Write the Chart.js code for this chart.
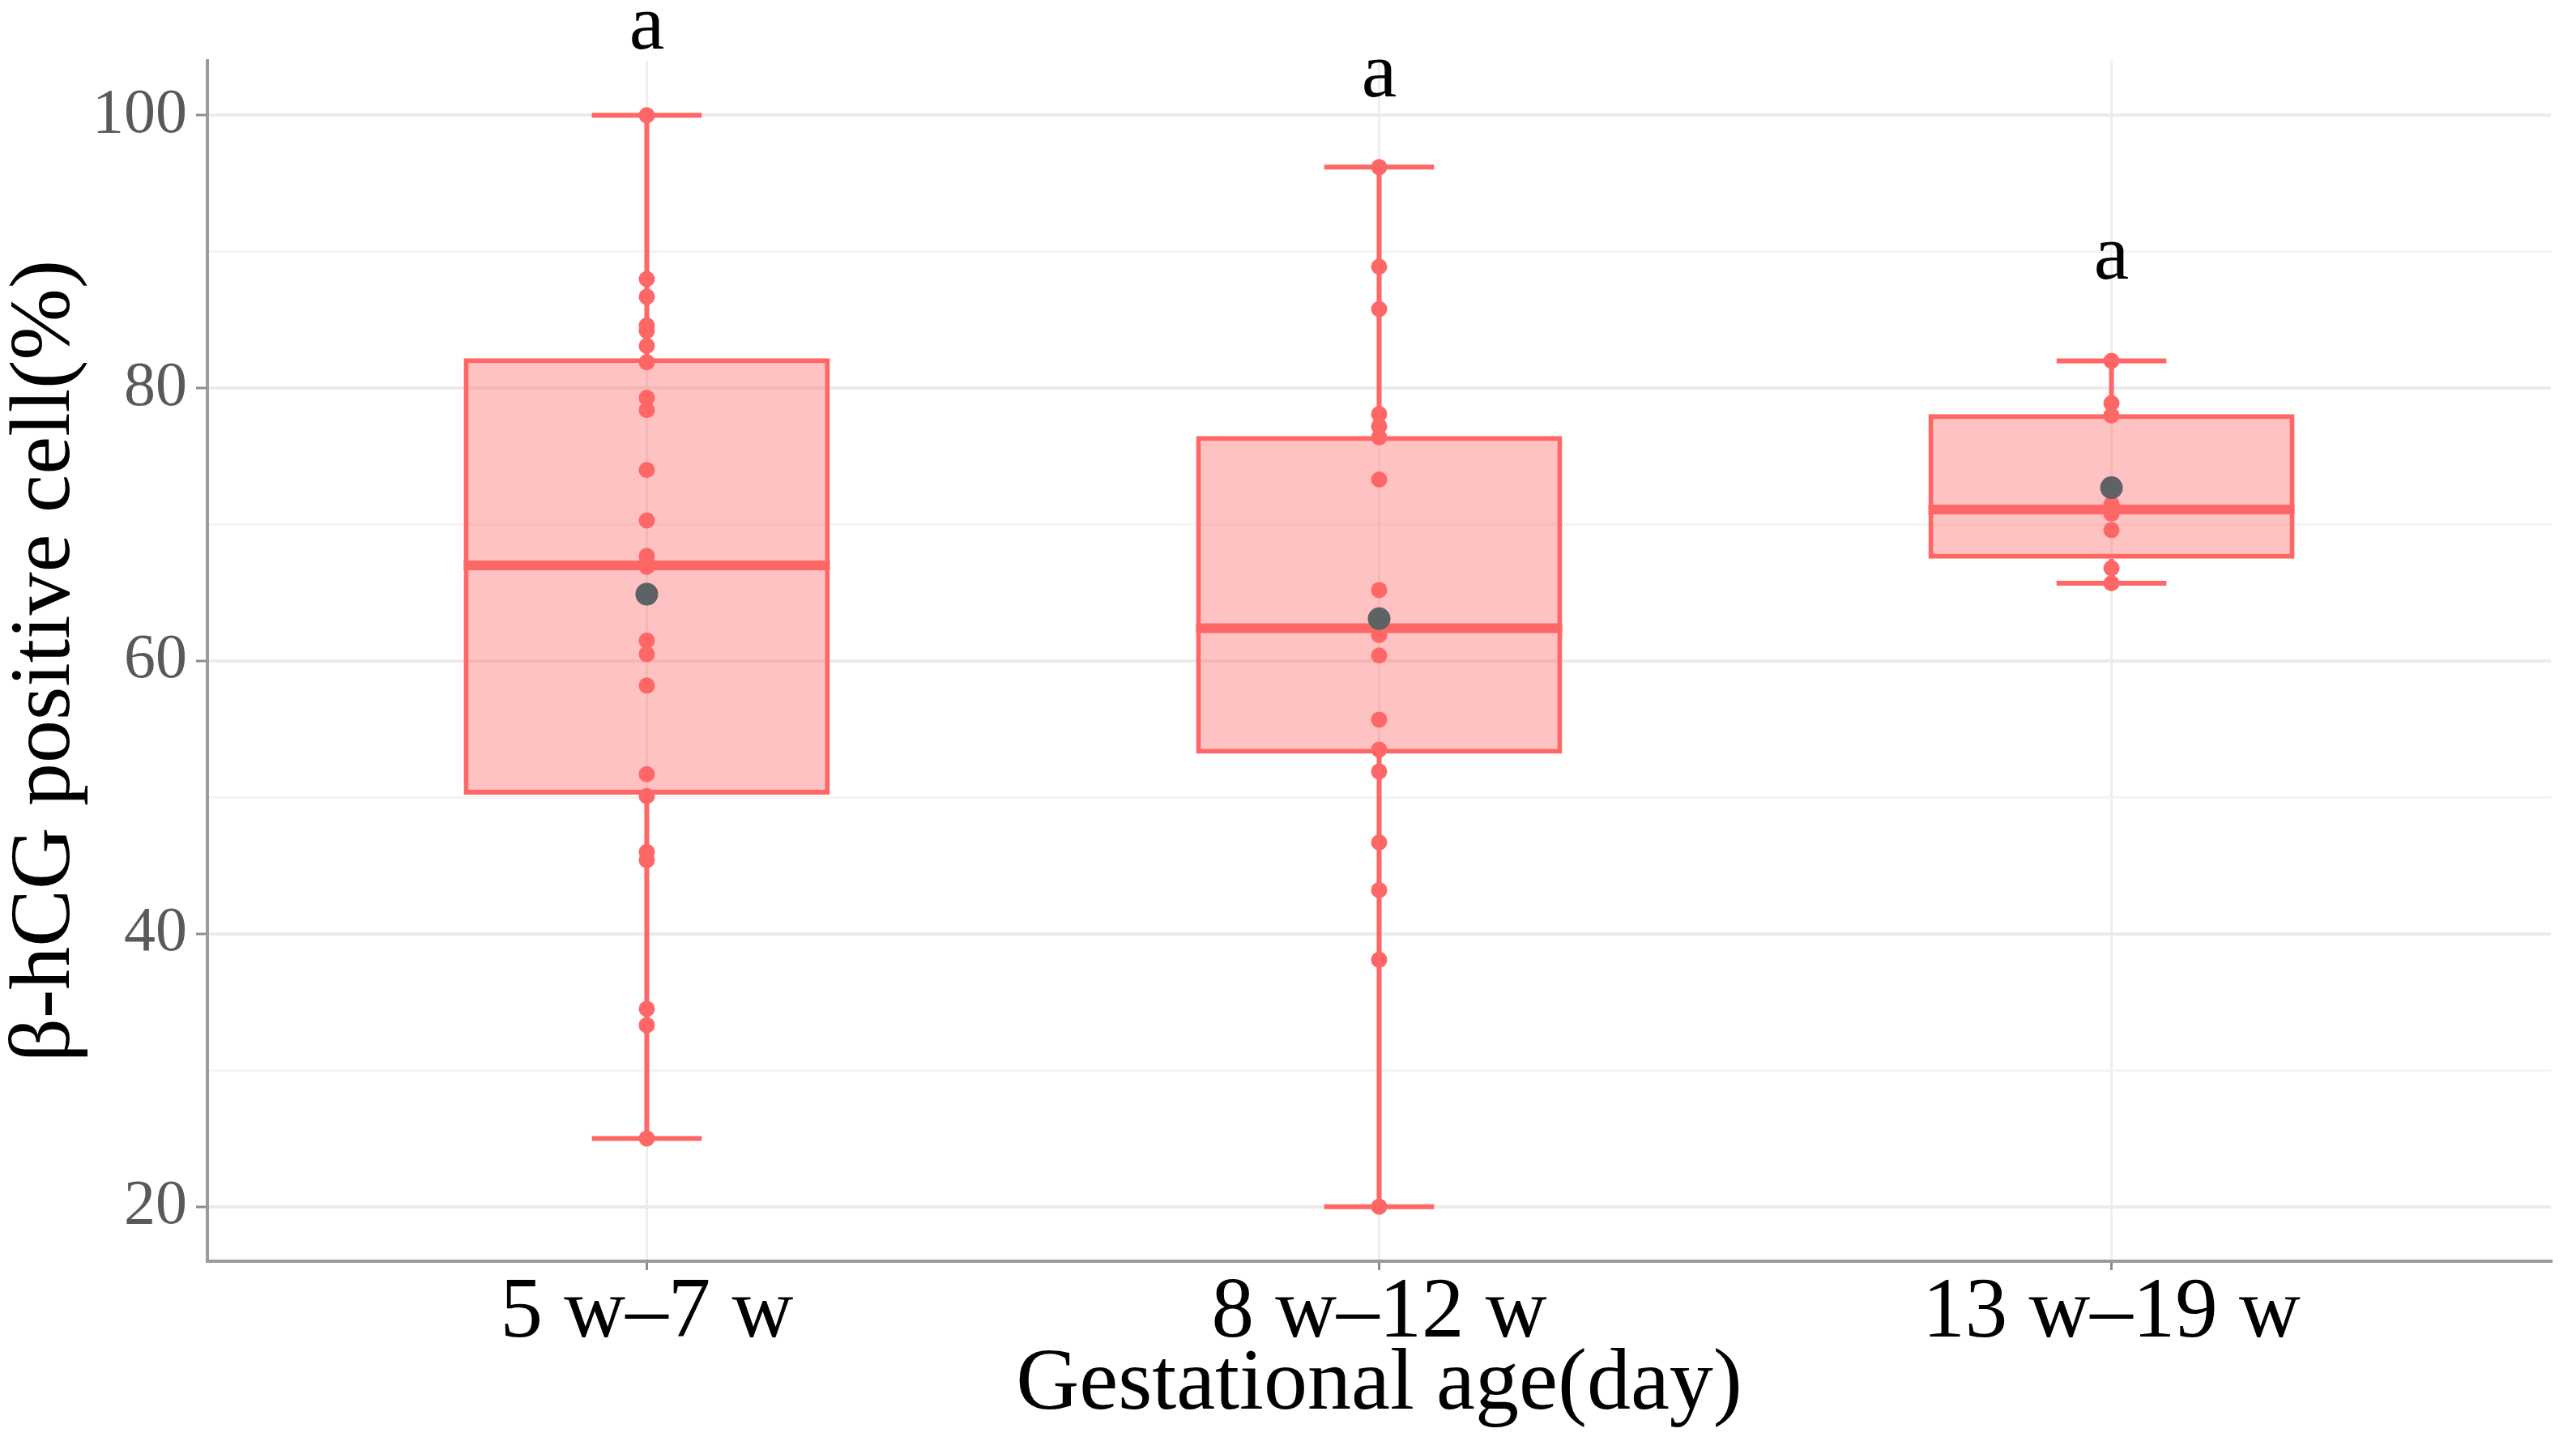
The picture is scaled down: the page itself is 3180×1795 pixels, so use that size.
<!DOCTYPE html>
<html>
<head>
<meta charset="utf-8">
<title>β-hCG positive cell</title>
<script src="https://cdn.jsdelivr.net/npm/chart.js@4.4.1/dist/chart.umd.min.js"></script>
<style>
  html, body { margin: 0; padding: 0; background: #fff; }
  #wrap { width: 3180px; height: 1795px; }
</style>
</head>
<body>
<div id="wrap"><canvas id="boxChart" width="3180" height="1795"></canvas></div>
<script>
// groups along the x axis
const groups = ['5 w–7 w', '8 w–12 w', '13 w–19 w'];

const group1Values = [100.0, 88.0, 86.7, 84.6, 84.2, 83.1, 81.9, 79.3, 78.4, 74.0, 70.3,
                      67.7, 67.2, 66.9, 61.5, 60.5, 58.2, 51.7, 50.1, 46.0, 45.4, 34.5, 33.3, 25.0];
const group2Values = [96.2, 88.9, 85.8, 78.1, 77.2, 76.4, 73.3, 65.2, 61.9, 60.4, 55.7,
                      53.5, 51.9, 46.7, 43.2, 38.1, 20.0];
const group3Values = [82.0, 78.9, 78.0, 71.5, 70.8, 69.6, 66.8, 65.7];

// box statistics per group
const lowerWhisker = [25.0, 20.0, 65.7];
const q1Values = [50.2, 53.2, 67.5];
const medianValues = [67.0, 62.4, 71.1];
const q3Values = [82.2, 76.5, 78.1];
const upperWhisker = [100.0, 96.2, 82.0];
const meanValues = [64.9, 63.1, 72.7];

// significance letters above each box
const letters = ['a', 'a', 'a'];
const letterY = [104.9, 101.4, 88.0];

// y axis ticks (labels on the 20s, minor grid on the 10s)
const yTickValues = [20, 30, 40, 50, 60, 70, 80, 90, 100];

const RED = 'rgb(255,102,102)';
const FONT = "'Liberation Serif', 'Times New Roman', serif";
const BOX_HALF = 0.25;
const CAP_HALF = 0.075;

const groupValues = [group1Values, group2Values, group3Values];

// whiskers: two vertical pieces and two caps per group, broken by nulls
const whiskerData = [];
groups.forEach((g, i) => {
  const x = i + 1;
  whiskerData.push({x: x, y: upperWhisker[i]}, {x: x, y: q3Values[i]}, {x: x, y: null});
  whiskerData.push({x: x, y: q1Values[i]}, {x: x, y: lowerWhisker[i]}, {x: x, y: null});
  whiskerData.push({x: x - CAP_HALF, y: upperWhisker[i]}, {x: x + CAP_HALF, y: upperWhisker[i]}, {x: x, y: null});
  whiskerData.push({x: x - CAP_HALF, y: lowerWhisker[i]}, {x: x + CAP_HALF, y: lowerWhisker[i]}, {x: x, y: null});
});

const medianData = [];
groups.forEach((g, i) => {
  const x = i + 1;
  medianData.push({x: x - BOX_HALF, y: medianValues[i]}, {x: x + BOX_HALF, y: medianValues[i]}, {x: x, y: null});
});

const pointData = [];
groupValues.forEach((vals, i) => {
  vals.forEach(v => pointData.push({x: i + 1, y: v}));
});

const letterPlugin = {
  id: 'letters',
  afterDatasetsDraw(chart) {
    const {ctx, scales: {x, y}} = chart;
    ctx.save();
    ctx.font = '98px ' + FONT;
    ctx.fillStyle = '#000';
    ctx.textAlign = 'center';
    ctx.textBaseline = 'alphabetic';
    letters.forEach((t, i) => {
      ctx.fillText(t, x.getPixelForValue(i + 1), y.getPixelForValue(letterY[i]));
    });
    ctx.restore();
  }
};

new Chart(document.getElementById('boxChart'), {
  type: 'scatter',
  data: {
    datasets: [
      {
        type: 'bar',
        data: groups.map((g, i) => ({x: i + 1, y: [q1Values[i], q3Values[i]]})),
        backgroundColor: 'rgba(255,102,102,0.4)',
        borderColor: RED,
        borderWidth: 6,
        borderSkipped: false,
        barPercentage: 0.5,
        categoryPercentage: 1,
        order: 5
      },
      {
        type: 'line',
        data: whiskerData,
        borderColor: RED,
        borderWidth: 6,
        pointRadius: 0,
        spanGaps: false,
        fill: false,
        order: 4
      },
      {
        type: 'line',
        data: medianData,
        borderColor: RED,
        borderWidth: 12,
        borderCapStyle: 'butt',
        pointRadius: 0,
        spanGaps: false,
        fill: false,
        order: 3
      },
      {
        type: 'scatter',
        data: pointData,
        backgroundColor: RED,
        borderWidth: 0,
        pointRadius: 10,
        order: 2
      },
      {
        type: 'scatter',
        data: meanValues.map((m, i) => ({x: i + 1, y: m})),
        backgroundColor: '#5d6265',
        borderWidth: 0,
        pointRadius: 14,
        order: 1
      }
    ]
  },
  options: {
    responsive: false,
    devicePixelRatio: 1,
    animation: false,
    layout: { padding: { top: 75, right: 31, left: 0, bottom: 0 } },
    plugins: {
      legend: { display: false },
      tooltip: { enabled: false }
    },
    scales: {
      x: {
        type: 'linear',
        min: 0.4,
        max: 3.6,
        offset: false,
        afterBuildTicks: s => { s.ticks = groups.map((g, i) => ({value: i + 1})); },
        afterFit: s => { s.height = 238; },
        ticks: {
          callback: v => groups[v - 1],
          color: '#000',
          font: { family: FONT, size: 105, lineHeight: 1 },
          padding: 2,
          maxRotation: 0,
          autoSkip: false
        },
        grid: { color: '#EEEEEE', lineWidth: 3, tickColor: '#8c8c8c', tickWidth: 3, tickLength: 11, offset: false },
        border: { color: '#9a9a9a', width: 4 },
        title: {
          display: true,
          text: 'Gestational age(day)',
          color: '#000',
          font: { family: FONT, size: 108, lineHeight: 1 },
          padding: { top: 0, bottom: 30 }
        }
      },
      y: {
        min: 16,
        max: 104,
        afterBuildTicks: s => { s.ticks = yTickValues.map(v => ({value: v})); },
        afterFit: s => { s.width = 256; },
        ticks: {
          callback: v => (v % 20 === 0 ? String(v) : ''),
          color: '#595959',
          font: { family: FONT, size: 78, lineHeight: 1 },
          padding: 11
        },
        grid: {
          color: c => (c.tick && c.tick.value % 20 === 0 ? '#EBEBEB' : '#F4F4F4'),
          lineWidth: c => (c.tick && c.tick.value % 20 === 0 ? 4 : 3),
          tickColor: c => (c.tick && c.tick.value % 20 === 0 ? '#8c8c8c' : 'rgba(0,0,0,0)'),
          tickWidth: 3,
          tickLength: 14
        },
        border: { color: '#9a9a9a', width: 4 },
        title: {
          display: true,
          text: 'β-hCG positive cell(%)',
          color: '#000',
          font: { family: FONT, size: 106, lineHeight: 1 },
          padding: { top: 4, bottom: 0 }
        }
      }
    }
  },
  plugins: [letterPlugin]
});
</script>
</body>
</html>
